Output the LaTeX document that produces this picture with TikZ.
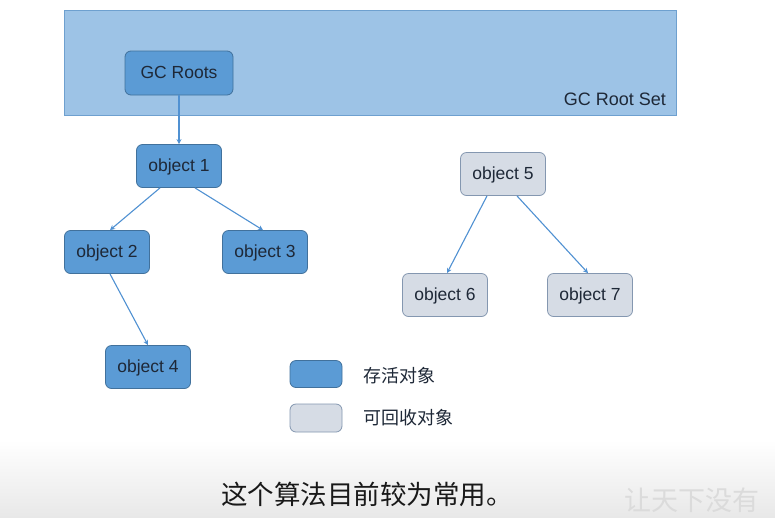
\documentclass[tikz,border=0pt]{standalone}
\usepackage{fontspec}
\setmainfont{Liberation Sans}
\newfontfamily\cjk{Noto Sans CJK SC}
\usetikzlibrary{arrows.meta}
\definecolor{liveFill}{RGB}{91,155,213}
\definecolor{liveDraw}{RGB}{65,113,156}
\definecolor{setFill}{RGB}{157,195,230}
\definecolor{setDraw}{RGB}{110,160,207}
\definecolor{deadFill}{RGB}{214,220,229}
\definecolor{deadDraw}{RGB}{132,151,176}
\definecolor{txt}{RGB}{30,40,55}
\definecolor{edge}{RGB}{80,145,210}
\begin{document}
\begin{tikzpicture}[x=1pt,y=-1pt,
  obj/.style={rectangle,rounded corners=6pt,draw=liveDraw,fill=liveFill,line width=0.8pt,
    minimum width=85pt,minimum height=43pt,inner sep=0pt,text=txt,text depth=2pt,font=\fontsize{17.5}{20}\selectfont},
  dead/.style={obj,draw=deadDraw,fill=deadFill},
  link/.style={draw=edge,line width=1.1pt,-{Stealth[length=5pt,width=5pt]}},
  legtxt/.style={text=txt,font=\cjk\fontsize{18}{21}\selectfont,anchor=west,inner sep=0pt}]
\useasboundingbox (0,0) rectangle (775,517);
\fill[white] (0,0) rectangle (775,517);
\shade[top color=white,bottom color=black!9] (0,440) rectangle (775,517);
% GC Root Set
\node[rectangle,draw=setDraw,fill=setFill,line width=0.8pt,minimum width=612pt,minimum height=105pt,inner sep=0pt] (set) at (370,62.5) {};
\node[anchor=east,text=txt,font=\fontsize{18}{21}\selectfont,inner sep=0pt] (setlbl) at (666,99) {GC Root Set};
\node[obj,minimum width=108pt,minimum height=44pt] (roots) at (179,73) {GC Roots};
% objects
\node[obj] (o1) at (179,166) {object 1};
\node[obj] (o2) at (107,252) {object 2};
\node[obj] (o3) at (265,252) {object 3};
\node[obj] (o4) at (148,367) {object 4};
\node[dead] (o5) at (503,174) {object 5};
\node[dead] (o6) at (445,295) {object 6};
\node[dead] (o7) at (590,295) {object 7};
% edges
\draw[link] (roots.south) -- (o1.north);
\draw[link] ([xshift=-19pt]o1.south) -- ([xshift=3pt]o2.north);
\draw[link] ([xshift=16pt]o1.south) -- ([xshift=-2pt]o3.north);
\draw[link] ([xshift=3pt]o2.south) -- (o4.north);
\draw[link] ([xshift=-16pt]o5.south) -- ([xshift=2pt]o6.north);
\draw[link] ([xshift=14pt]o5.south) -- ([xshift=-2pt]o7.north);
% legend
\node[obj,minimum width=52pt,minimum height=27pt] (legLive) at (316,374) {};
\node[dead,minimum width=52pt,minimum height=28pt] (legDead) at (316,418) {};
\node[legtxt] (legLiveT) at (363,376) {存活对象};
\node[legtxt] (legDeadT) at (363,418) {可回收对象};
% subtitle
\node[anchor=west,inner sep=0pt,text=black!90,font=\cjk\fontsize{26.5}{30}\selectfont] (sub) at (221,494) {这个算法目前较为常用。};
\node[anchor=west,inner sep=0pt,text=black!14,font=\cjk\fontsize{27}{30}\selectfont] (wm) at (624,500) {让天下没有};
\end{tikzpicture}
\end{document}
